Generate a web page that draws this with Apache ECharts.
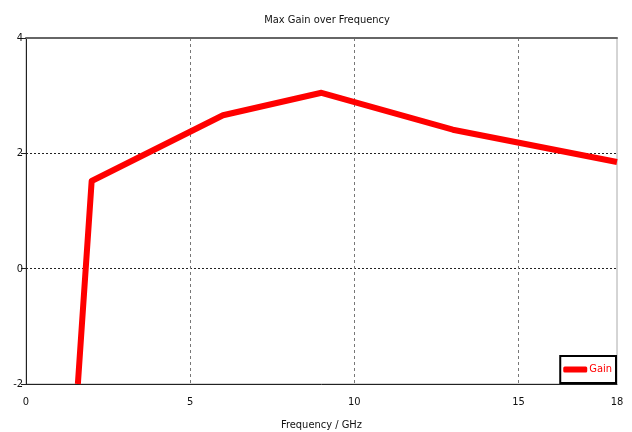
<!DOCTYPE html>
<html>
<head>
<meta charset="utf-8">
<script src="https://cdn.jsdelivr.net/npm/echarts@6/dist/echarts.min.js"></script>
<style>
  html, body { margin: 0; padding: 0; background: #fff; }
  #main { width: 632px; height: 432px; }
</style>
</head>
<body>
<div id="main"></div>
<script>
const freq = [1.58, 2.0, 6.0, 9.0, 13.0, 18.0];
const gain = [-2.0, 1.52, 2.66, 3.05, 2.41, 1.85];
const seriesName = 'Gain';
const titleText = 'Max Gain over Frequency';
const xName = 'Frequency / GHz';

const FONT = '"DejaVu Sans Condensed", sans-serif';
const chart = echarts.init(document.getElementById('main'), null, { renderer: 'canvas' });

chart.setOption({
  backgroundColor: '#fff',
  animation: false,
  title: {
    text: titleText,
    left: 322, top: 10,
    textAlign: 'center',
    textStyle: { fontFamily: FONT, fontSize: 11, fontWeight: 'normal', color: '#111' }
  },
  grid: {
    left: 26, right: 15, top: 38, bottom: 48,
    outerBoundsMode: 'none',
    show: true, borderColor: '#aaa', borderWidth: 1
  },
  legend: {
    right: 16, bottom: 49,
    data: [seriesName],
    orient: 'vertical',
    backgroundColor: '#fff',
    borderColor: '#000', borderWidth: 2, borderRadius: 0,
    padding: [8, 4, 8, 3],
    icon: 'roundRect',
    itemWidth: 24, itemHeight: 6, itemGap: 2,
    textStyle: { fontFamily: FONT, fontSize: 11, color: '#f00', padding: [0, 0, 0, -3] }
  },
  xAxis: [{
    type: 'value',
    min: 0, max: 18, interval: 5,
    name: xName, nameLocation: 'middle', nameGap: 36,
    nameTextStyle: { fontFamily: FONT, fontSize: 11, color: '#111' },
    axisLine: { onZero: false, lineStyle: { color: '#222', width: 1 } },
    axisTick: { show: false },
    axisLabel: { fontFamily: FONT, fontSize: 11, color: '#111', margin: 13 },
    splitLine: { show: true, showMinLine: false, showMaxLine: false,
      lineStyle: { color: '#777', type: [3, 3], width: 1 } }
  }, {
    // top border of the plot frame
    type: 'value', position: 'top',
    min: 0, max: 18,
    axisLine: { onZero: false, lineStyle: { color: '#666', width: 2 } },
    axisTick: { show: false }, axisLabel: { show: false }, splitLine: { show: false }
  }],
  yAxis: {
    type: 'value',
    min: -2, max: 4, interval: 2,
    axisLine: { show: true, onZero: false, lineStyle: { color: '#222', width: 1 } },
    axisTick: { show: true, length: 5, lineStyle: { color: '#222' } },
    axisLabel: { fontFamily: FONT, fontSize: 11, color: '#111', margin: 3 },
    splitLine: { show: true, showMinLine: false, showMaxLine: false,
      lineStyle: { color: '#222', type: [2, 2], width: 1 } }
  },
  series: [{
    name: seriesName,
    type: 'line',
    data: freq.map((f, i) => [f, gain[i]]),
    symbol: 'none',
    clip: true,
    lineStyle: { color: '#f00', width: 6, join: 'round' },
    itemStyle: { color: '#f00' }
  }]
});
</script>
</body>
</html>
